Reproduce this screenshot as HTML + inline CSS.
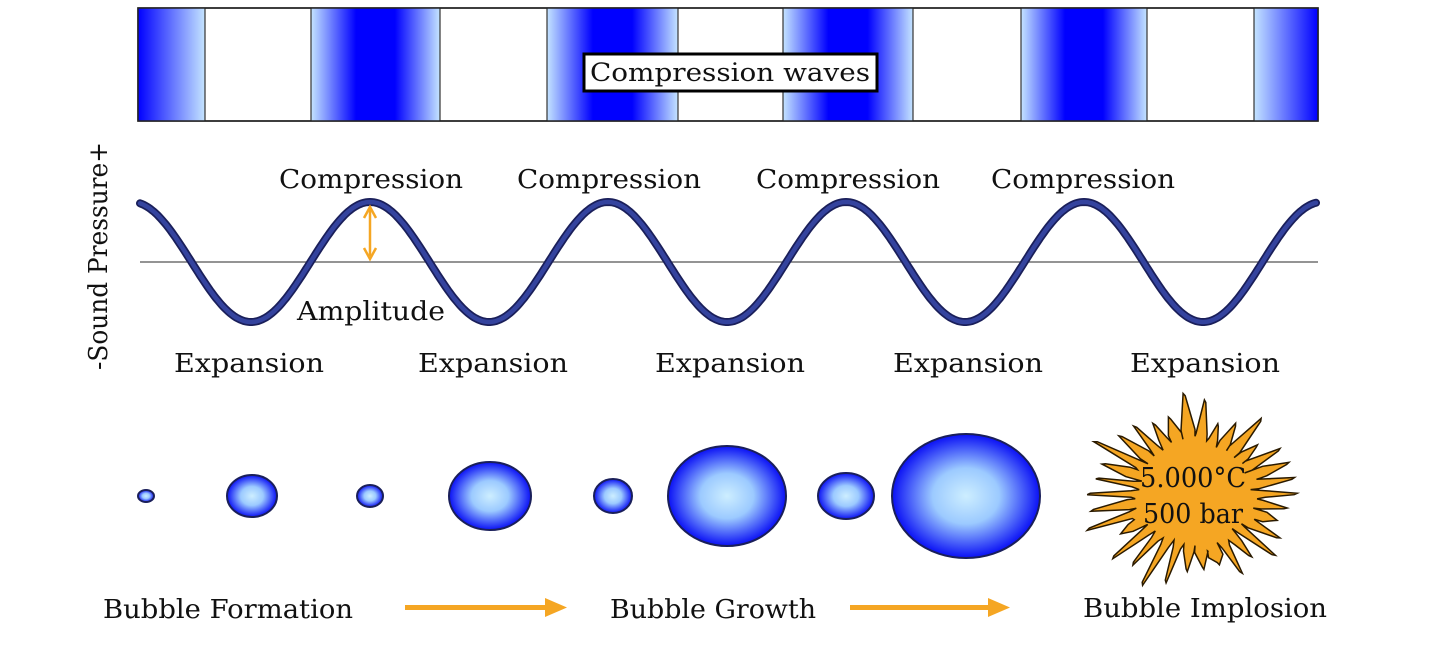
<!DOCTYPE html>
<html><head><meta charset="utf-8">
<style>
html,body{margin:0;padding:0;background:#fff;}
svg{display:block;}
text{font-family:"DejaVu Serif","Liberation Serif",serif;fill:#111;}
</style></head>
<body>
<svg id="s" width="1438" height="651" viewBox="0 0 1438 651" xmlns="http://www.w3.org/2000/svg">
<defs>
<linearGradient id="gc" x1="0" x2="1" y1="0" y2="0">
<stop offset="0" stop-color="#c4e4ff"/><stop offset="0.35" stop-color="#0000ff"/><stop offset="0.65" stop-color="#0000ff"/><stop offset="1" stop-color="#c4e4ff"/></linearGradient>
<linearGradient id="gl" x1="0" x2="1"><stop offset="0" stop-color="#0000ff"/><stop offset="1" stop-color="#c4e4ff"/></linearGradient>
<linearGradient id="gr" x1="0" x2="1"><stop offset="0" stop-color="#c4e4ff"/><stop offset="1" stop-color="#0000ff"/></linearGradient>
<radialGradient id="bb" cx="0.5" cy="0.5" r="0.5"><stop offset="0" stop-color="#cdeeff"/><stop offset="0.45" stop-color="#9ccaff"/><stop offset="1" stop-color="#0a10f5"/></radialGradient>
</defs>
<rect x="138" y="8" width="1180" height="113" fill="#fff" stroke="#222" stroke-width="1.5"/>
<rect x="138" y="8" width="67" height="113" fill="url(#gl)"/>
<rect x="311" y="8" width="129" height="113" fill="url(#gc)"/>
<rect x="547" y="8" width="131" height="113" fill="url(#gc)"/>
<rect x="783" y="8" width="130" height="113" fill="url(#gc)"/>
<rect x="1021" y="8" width="126" height="113" fill="url(#gc)"/>
<rect x="1254" y="8" width="64" height="113" fill="url(#gr)"/>
<g stroke="#333" stroke-width="1.2">
<line x1="205" y1="8" x2="205" y2="121"/><line x1="311" y1="8" x2="311" y2="121"/><line x1="440" y1="8" x2="440" y2="121"/><line x1="547" y1="8" x2="547" y2="121"/><line x1="678" y1="8" x2="678" y2="121"/><line x1="783" y1="8" x2="783" y2="121"/><line x1="913" y1="8" x2="913" y2="121"/><line x1="1021" y1="8" x2="1021" y2="121"/><line x1="1147" y1="8" x2="1147" y2="121"/><line x1="1254" y1="8" x2="1254" y2="121"/>
</g>
<rect x="138" y="8" width="1180" height="113" fill="none" stroke="#222" stroke-width="1.5"/>
<rect x="584" y="54" width="293" height="37" fill="#fff" stroke="#000" stroke-width="3"/>
<text x="730" y="81" font-size="25" text-anchor="middle" textLength="280" lengthAdjust="spacingAndGlyphs">Compression waves</text>

<line x1="140" y1="262" x2="1318" y2="262" stroke="#555" stroke-width="1.3"/>
<path id="wave" fill="none" stroke="#1a1f5a" stroke-width="8" stroke-linecap="round"/>
<path id="wave2" fill="none" stroke="#34439e" stroke-width="4.5" stroke-linecap="round"/>

<g stroke="#f5a623" stroke-width="2.5" fill="none"><line x1="370" y1="210" x2="370" y2="256"/><polyline points="364,218 370,207 376,218"/><polyline points="364,248 370,259 376,248"/></g>

<text transform="translate(107,256) rotate(-90)" font-size="26" text-anchor="middle" textLength="228" lengthAdjust="spacingAndGlyphs">-Sound Pressure+</text>
<g font-size="26" text-anchor="middle">
<text x="371" y="188" textLength="184" lengthAdjust="spacingAndGlyphs">Compression</text>
<text x="609" y="188" textLength="184" lengthAdjust="spacingAndGlyphs">Compression</text>
<text x="848" y="188" textLength="184" lengthAdjust="spacingAndGlyphs">Compression</text>
<text x="1083" y="188" textLength="184" lengthAdjust="spacingAndGlyphs">Compression</text>
<text x="371" y="320" textLength="148" lengthAdjust="spacingAndGlyphs">Amplitude</text>
<text x="249" y="372" textLength="150" lengthAdjust="spacingAndGlyphs">Expansion</text>
<text x="493" y="372" textLength="150" lengthAdjust="spacingAndGlyphs">Expansion</text>
<text x="730" y="372" textLength="150" lengthAdjust="spacingAndGlyphs">Expansion</text>
<text x="968" y="372" textLength="150" lengthAdjust="spacingAndGlyphs">Expansion</text>
<text x="1205" y="372" textLength="150" lengthAdjust="spacingAndGlyphs">Expansion</text>
<text x="228" y="618" textLength="250" lengthAdjust="spacingAndGlyphs">Bubble Formation</text>
<text x="713" y="618" textLength="206" lengthAdjust="spacingAndGlyphs">Bubble Growth</text>
<text x="1205" y="617" textLength="244" lengthAdjust="spacingAndGlyphs">Bubble Implosion</text>
</g>

<g fill="url(#bb)" stroke="#1a1f5a" stroke-width="2">
<ellipse cx="146" cy="496" rx="8" ry="6"/>
<ellipse cx="252" cy="496" rx="25" ry="21"/>
<ellipse cx="370" cy="496" rx="13" ry="11"/>
<ellipse cx="490" cy="496" rx="41" ry="34"/>
<ellipse cx="613" cy="496" rx="19" ry="17"/>
<ellipse cx="727" cy="496" rx="59" ry="50"/>
<ellipse cx="846" cy="496" rx="28" ry="23"/>
<ellipse cx="966" cy="496" rx="74" ry="62"/>
</g>

<g fill="#f5a623" stroke="none">
<rect x="405" y="605" width="145" height="5"/><polygon points="545,598 567,607.5 545,617"/>
<rect x="850" y="605" width="143" height="5"/><polygon points="988,598 1010,607.5 988,617"/>
</g>

<polygon id="star" fill="#f5a623" stroke="#2a1a00" stroke-width="1.5" stroke-linejoin="miter"/>
<g font-size="27" text-anchor="middle">
<text x="1193" y="487" textLength="106" lengthAdjust="spacingAndGlyphs">5.000°C</text>
<text x="1193" y="523" textLength="100" lengthAdjust="spacingAndGlyphs">500 bar</text>
</g>
</svg>
<script>
(function(){
var d="";for(var x=140;x<=1316;x+=2){var y=262-60*Math.cos(2*Math.PI*(x-370)/238);d+=(x==140?"M":"L")+x+","+y.toFixed(1);}
document.getElementById("wave").setAttribute("d",d);document.getElementById("wave2").setAttribute("d",d);
var cx=1195,cy=494,pts=[],n=34,seed=7;function r(){seed=(seed*9301+49297)%233280;return seed/233280;}
var sx=1.0,sy=0.85;
function P(a,R){return (cx+Math.cos(a)*R*sx).toFixed(1)+","+(cy+Math.sin(a)*R*sy).toFixed(1);}
for(var i=0;i<n;i++){var a=i/n*2*Math.PI;var a2=(i+0.5)/n*2*Math.PI;
var R=85+r()*35, Ri=62+r()*15, w=0.05+r()*0.05;
pts.push(P(a-w,Ri));pts.push(P(a-0.008,R));pts.push(P(a+0.008,R-3));pts.push(P(a+w,Ri));pts.push(P(a2,Ri-8));}
document.getElementById("star").setAttribute("points",pts.join(" "));
})();
</script>
</body></html>
